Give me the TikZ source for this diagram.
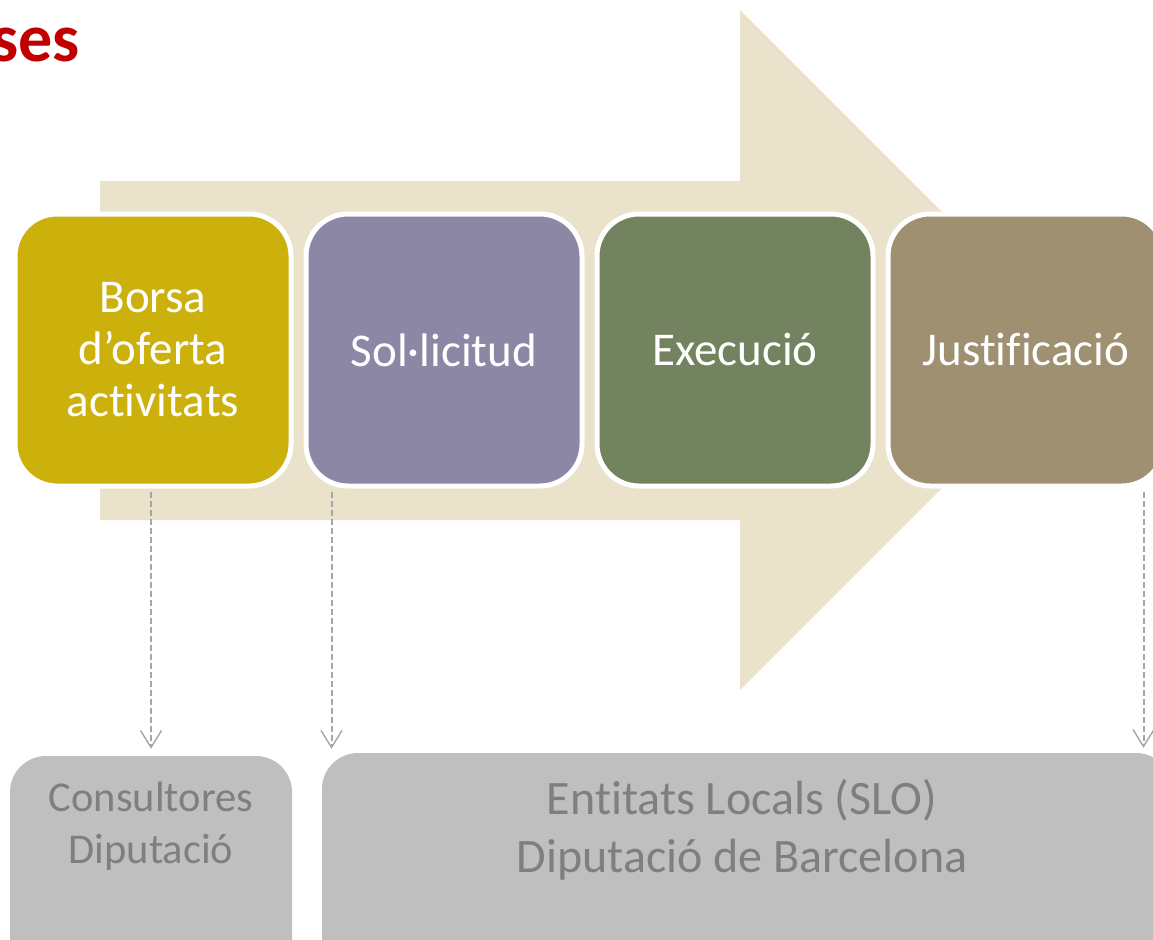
\documentclass[tikz,border=0pt]{standalone}
\usepackage{fontspec}
\setmainfont{Carlito}[Ligatures=NoCommon]
\usetikzlibrary{arrows.meta,calc}
\definecolor{arrowbg}{HTML}{EAE2CB}
\definecolor{cborsa}{HTML}{CCB00C}
\definecolor{csol}{HTML}{8B87A5}
\definecolor{cexe}{HTML}{74835F}
\definecolor{cjus}{HTML}{9E9070}
\definecolor{cgrey}{HTML}{BFBFBF}
\definecolor{cgreytext}{HTML}{7F7F7F}
\definecolor{cdash}{HTML}{A6A6A6}
\definecolor{ctitle}{HTML}{C00000}
\tikzset{
  phase/.style={draw=white, line width=5pt, rounded corners=42pt, minimum width=276pt, minimum height=272pt,
    text=white, align=center, font=\fontsize{47}{52}\selectfont, inner sep=0pt},
  actor/.style={fill=cgrey, rounded corners=36pt, inner sep=0pt},
  actortext/.style={text=cgreytext, align=center, inner sep=0pt, anchor=north},
  dasharr/.style={draw=cdash, line width=2pt, dash pattern=on 6pt off 3pt,
    -{Straight Barb[length=17pt,width=21pt,line width=1.4pt]}}
}
\begin{document}
\begin{tikzpicture}[x=1pt,y=-1pt]
\useasboundingbox (0,0) rectangle (1153,939);
% big arrow
\fill[arrowbg] (100,181) -- (740,181) -- (740,10) -- (1080,350) -- (740,690) -- (740,520) -- (100,520) -- cycle;
% title
\node[anchor=base east, text=ctitle, inner sep=0pt, font=\bfseries\fontsize{68}{70}\selectfont] (title) at (80,62) {ses};
% phases
\node[phase, fill=cborsa] (borsa) at (153,350) {Borsa\\d’oferta\\activitats};
\node[phase, fill=csol] (sol) at (444,350) {Sol·licitud};
\node[phase, fill=cexe] (exe) at (735,350) {Execució};
\node[phase, fill=cjus] (jus) at (1026,350) {Justificació};
% actors
\node[actor, minimum width=282pt, minimum height=240pt] (cons) at (151,876) {};
\node[actortext, font=\fontsize{42.5}{52}\selectfont] (constext) at ($(cons.north)+(0,26)$) {Consultores\\Diputació};
\node[actor, minimum width=850pt, minimum height=246pt] (ent) at (747,876) {};
\node[actortext, font=\fontsize{48}{58}\selectfont] (enttext) at ($(ent.north)+(-5,26)$) {Entitats Locals (SLO)\\Diputació de Barcelona};
% connectors
\coordinate (s1) at (borsa.south -| cons.north);
\coordinate (e1) at ($(cons.north)+(0,-7)$);
\draw[dasharr] ($(s1)+(0,3)$) -- (e1);
\coordinate (s2) at ($(sol.south west)+(28,3)$);
\coordinate (e2) at ($(ent.north west)+(13,-4)$);
\draw[dasharr] (s2) -- (s2 |- e2);
\coordinate (s3) at ($(jus.south west)+(258,3)$);
\coordinate (e3) at ($(ent.north west)+(826,-5)$);
\draw[dasharr] (s3) -- (s3 |- e3);
\end{tikzpicture}
\end{document}
